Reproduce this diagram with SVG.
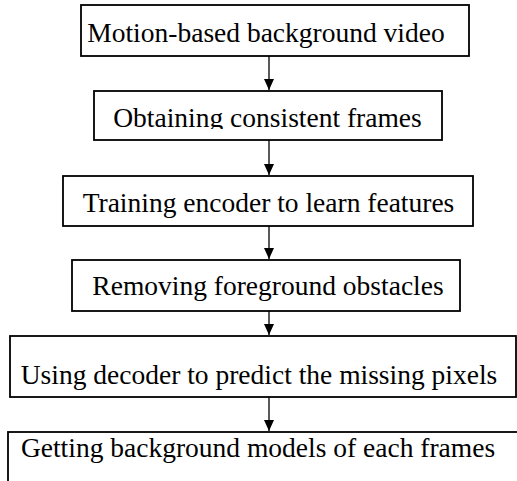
<svg xmlns="http://www.w3.org/2000/svg" width="517" height="481" viewBox="0 0 517 481">
<style>
.box{fill:#fff;stroke:#000;stroke-width:1.8}
.lbl{font-family:"Liberation Serif","Times New Roman",serif;font-size:27.5px;fill:#000;text-anchor:middle}
.conn{stroke:#000;stroke-width:1.3;fill:none}
</style>
<defs>
<marker id="arr" markerUnits="userSpaceOnUse" markerWidth="11" markerHeight="12" viewBox="0 0 11 10" refX="11" refY="5" orient="auto">
<path d="M0,0 L11,5 L0,10 Z" fill="#000"/>
</marker>
<clipPath id="c2"><rect x="94" y="91" width="348" height="38"/></clipPath>
<clipPath id="c6"><rect x="0" y="432" width="517" height="34"/></clipPath>
</defs>
<g id="connectors">
<line class="conn" x1="269" y1="56" x2="269" y2="90" marker-end="url(#arr)"/>
<line class="conn" x1="269" y1="140" x2="269" y2="175" marker-end="url(#arr)"/>
<line class="conn" x1="269" y1="226" x2="269" y2="259" marker-end="url(#arr)"/>
<line class="conn" x1="269" y1="311" x2="269" y2="335" marker-end="url(#arr)"/>
<line class="conn" x1="269" y1="397" x2="269" y2="431" marker-end="url(#arr)"/>
</g>
<g id="n1">
<rect class="box" x="81" y="5" width="388" height="51"/>
<text class="lbl" x="266" y="41.5">Motion-based background video</text>
</g>
<g id="n2">
<rect class="box" x="94" y="91" width="348" height="49"/>
<text class="lbl" x="267.5" y="127" clip-path="url(#c2)">Obtaining consistent frames</text>
</g>
<g id="n3">
<rect class="box" x="63" y="176" width="410" height="50"/>
<text class="lbl" x="268.5" y="211.5">Training encoder to learn features</text>
</g>
<g id="n4">
<rect class="box" x="72" y="260" width="388" height="51"/>
<text class="lbl" x="268" y="295">Removing foreground obstacles</text>
</g>
<g id="n5">
<rect class="box" x="10" y="336" width="506" height="61"/>
<text class="lbl" x="259" y="384">Using decoder to predict the missing pixels</text>
</g>
<g id="n6">
<rect class="box" x="8" y="432" width="520" height="60"/>
<text class="lbl" x="258" y="456.5" clip-path="url(#c6)">Getting background models of each frames</text>
</g>
</svg>
